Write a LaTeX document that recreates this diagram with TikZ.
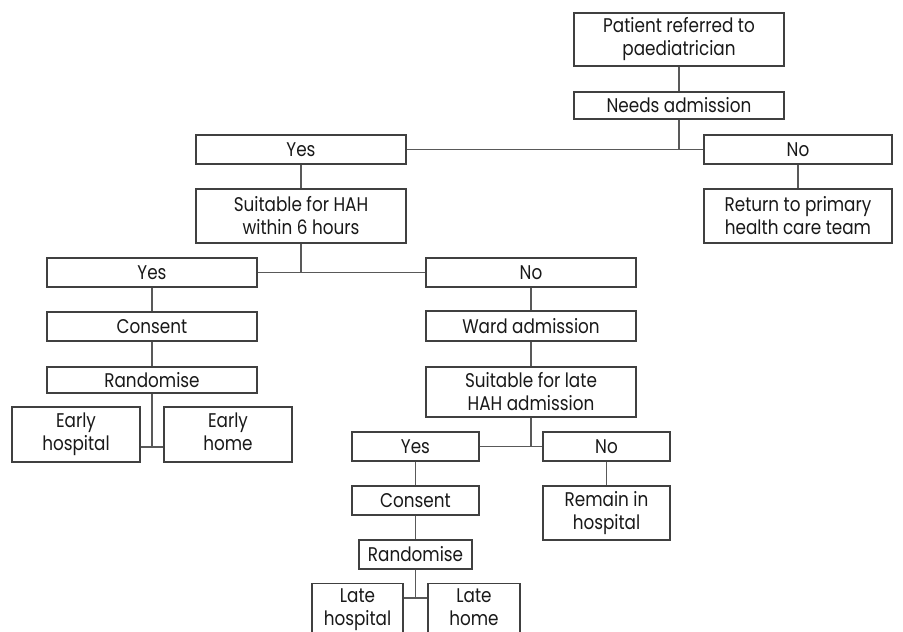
\documentclass[tikz,border=0pt]{standalone}
\usepackage{fontspec}
\setmainfont[FakeStretch=0.85]{Poppins}
\begin{document}
\begin{tikzpicture}[x=1pt,y=-1pt,
  bx/.style={draw=black!75, line width=1.1pt, fill=white, align=center, inner sep=0pt,
    font=\fontsize{19.8}{23}\selectfont, text=black!90},
  cn/.style={draw=black!65, line width=1.1pt}]
\useasboundingbox (0,0) rectangle (903,632);
\clip (0,0) rectangle (903,632);
% nodes
\node[bx, minimum width=210, minimum height=53] (ref) at (679,39.5) {Patient referred to\\paediatrician};
\node[bx, minimum width=210, minimum height=27] (need) at (679,105.5) {Needs admission};
\node[bx, minimum width=210, minimum height=29] (yes1) at (301,149.5) {Yes};
\node[bx, minimum width=188, minimum height=29] (no1) at (798,149.5) {No};
\node[bx, minimum width=188, minimum height=54] (ret) at (798,216) {Return to primary\\health care team};
\node[bx, minimum width=210, minimum height=54] (suit1) at (301,216) {Suitable for HAH\\within 6 hours};
\node[bx, minimum width=210, minimum height=29] (yes2) at (152,272.5) {Yes};
\node[bx, minimum width=210, minimum height=29] (no2) at (531,272.5) {No};
\node[bx, minimum width=210, minimum height=29] (cons1) at (152,326.5) {Consent};
\node[bx, minimum width=210, minimum height=26] (rand1) at (152,380) {Randomise};
\node[bx, minimum width=128, minimum height=55, text depth=5pt] (ehosp) at (76,434.5) {Early\\hospital};
\node[bx, minimum width=128, minimum height=55, text depth=5pt] (ehome) at (228,434.5) {Early\\home};
\node[bx, minimum width=210, minimum height=30] (ward) at (531,326) {Ward admission};
\node[bx, minimum width=210, minimum height=50] (suit2) at (531,392) {Suitable for late\\HAH admission};
\node[bx, minimum width=127, minimum height=29] (yes3) at (415.5,446.5) {Yes};
\node[bx, minimum width=127, minimum height=29] (no3) at (606.5,446.5) {No};
\node[bx, minimum width=127, minimum height=29] (cons2) at (415.5,500.5) {Consent};
\node[bx, minimum width=127, minimum height=54] (remain) at (606.5,513) {Remain in\\hospital};
\node[bx, minimum width=113, minimum height=29] (rand2) at (415.5,554.5) {Randomise};
\node[bx, minimum width=91, minimum height=52, text depth=5pt, anchor=north] (lhosp) at (357.5,583) {Late\\hospital};
\node[bx, minimum width=92, minimum height=52, text depth=5pt, anchor=north] (lhome) at (474,583) {Late\\home};
% junctions
\coordinate (j1) at (152,447);
\coordinate (j2) at (415.5,598);
% connectors
\draw[cn] (ref.south) -- (need.north);
\draw[cn] (need.south) -- (need.south |- yes1.east);
\draw[cn] (yes1.east) -- (no1.west);
\draw[cn] (no1.south) -- (ret.north);
\draw[cn] (yes1.south) -- (suit1.north);
\draw[cn] (suit1.south) -- (suit1.south |- yes2.east);
\draw[cn] (yes2.east) -- (no2.west);
\draw[cn] (yes2.south) -- (cons1.north);
\draw[cn] (cons1.south) -- (rand1.north);
\draw[cn] (rand1.south) -- (j1);
\draw[cn] (ehosp.east |- j1) -- (ehome.west |- j1);
\draw[cn] (no2.south) -- (ward.north);
\draw[cn] (ward.south) -- (suit2.north);
\draw[cn] (suit2.south) -- (suit2.south |- yes3.east);
\draw[cn] (yes3.east) -- (no3.west);
\draw[cn] (no3.south) -- (remain.north);
\draw[cn] (yes3.south) -- (cons2.north);
\draw[cn] (cons2.south) -- (rand2.north);
\draw[cn] (rand2.south) -- (j2);
\draw[cn] (lhosp.east |- j2) -- (lhome.west |- j2);
\end{tikzpicture}
\end{document}
